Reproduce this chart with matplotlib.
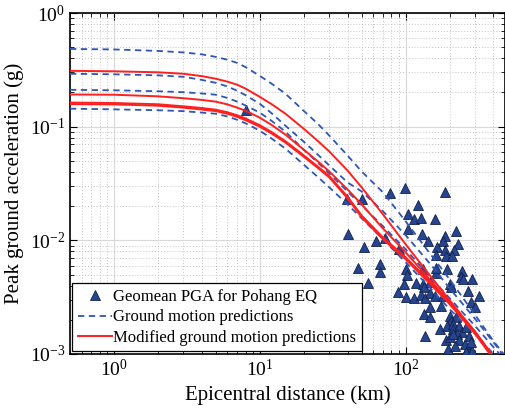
import numpy as np
import matplotlib
matplotlib.use('Agg')
import matplotlib.pyplot as plt
from matplotlib.ticker import LogLocator, NullFormatter

plt.rcParams['font.family'] = 'serif'
plt.rcParams['font.serif'] = ['Liberation Serif', 'DejaVu Serif']
plt.rcParams['mathtext.fontset'] = 'stix'

# distances (km) at which the prediction curves were read
dist = [0.5, 1, 2, 3, 4, 5, 6, 7, 8, 10, 12, 15, 20, 25, 30, 40, 50, 70, 100, 150, 200,
        300, 400, 500]

# ground motion predictions (blue dashed)
gmp_1 = [0.483, 0.478, 0.464, 0.450, 0.433, 0.411, 0.388, 0.364, 0.334, 0.280, 0.240,
         0.195, 0.138, 0.106, 0.0834, 0.0557, 0.0403, 0.0264, 0.0147, 0.00739, 0.00455,
         0.00220, 0.00130, 0.000904]
gmp_2 = [0.292, 0.289, 0.283, 0.2745, 0.258, 0.243, 0.226, 0.207, 0.189, 0.159, 0.132,
         0.102, 0.0739, 0.0568, 0.0455, 0.0323, 0.0269, 0.0180, 0.0111, 0.00604, 0.00379,
         0.00203, 0.00127, 0.000868]
gmp_3 = [0.211, 0.209, 0.205, 0.201, 0.196, 0.191, 0.179, 0.166, 0.1535, 0.133, 0.113,
         0.0904, 0.0628, 0.0483, 0.0387, 0.0269, 0.0203, 0.0133, 0.00834, 0.00464,
         0.00310, 0.00176, 0.00115, 0.000834]
gmp_4 = [0.144, 0.142, 0.1395, 0.137, 0.133, 0.130, 0.123, 0.115, 0.107, 0.0922, 0.0790,
         0.0641, 0.0464, 0.0361, 0.0292, 0.0207, 0.0156, 0.0102, 0.00641, 0.00372,
         0.00248, 0.00150, 0.00100, 0.00075]

# modified ground motion predictions (red solid)
mod_1 = [0.310, 0.307, 0.301, 0.292, 0.2785, 0.264, 0.249, 0.234, 0.216, 0.183, 0.1585,
         0.130, 0.0960, 0.0749, 0.0604, 0.0411, 0.0292, 0.0169, 0.00923, 0.00474,
         0.00298, 0.00156, 0.000922, 0.0006]
mod_2 = [0.192, 0.191, 0.185, 0.178, 0.172, 0.166, 0.157, 0.147, 0.138, 0.120, 0.104,
         0.0851, 0.0628, 0.0496, 0.0403, 0.0280, 0.0207, 0.0127, 0.00785, 0.00437,
         0.00286, 0.00156, 0.000941, 0.0006]
mod_3 = [0.163, 0.1615, 0.1575, 0.151, 0.146, 0.141, 0.134, 0.126, 0.118, 0.103, 0.090,
         0.0745, 0.0560, 0.0446, 0.0368, 0.0242, 0.0165, 0.0106, 0.00710, 0.00420,
         0.00287, 0.00157, 0.00095, 0.0006]
mod_4 = [0.158, 0.157, 0.153, 0.147, 0.1415, 0.137, 0.130, 0.122, 0.114, 0.100, 0.0874,
         0.0724, 0.0545, 0.0434, 0.0357, 0.0234, 0.0159, 0.0102, 0.00681, 0.00403,
         0.00275, 0.00150, 0.000904, 0.0006]

# observed geomean PGA, Pohang earthquake
obs_dist = [8.11, 39.9, 50.5, 78.6, 99.2, 187, 121, 40.4, 51.8, 62.3, 71.8, 104, 115, 127,
            160, 104, 130, 223, 186, 142, 180, 228, 164, 162, 185, 213, 188, 208, 90.5,
            46.8, 66.4, 66.4, 54.9, 101, 131, 162, 162, 193, 245, 241, 103, 96.9, 118,
            131, 133, 146, 88.8, 101, 115, 127, 135, 146, 159, 200, 206, 247, 286, 267,
            319, 180, 174, 146, 282, 297, 133, 147, 200, 206, 223, 172, 192, 211, 211,
            234, 244, 260, 225, 135, 190, 234, 195, 267, 254, 260, 286, 200, 211, 274,
            217, 282]
obs_pga = [0.141, 0.0232, 0.0232, 0.0262, 0.0290, 0.0265, 0.0203, 0.0113, 0.00868, 0.00986,
           0.01045, 0.0169, 0.0153, 0.0157, 0.0153, 0.01256, 0.0114, 0.0121, 0.0109,
           0.00986, 0.00986, 0.00922, 0.00868, 0.00739, 0.00817, 0.00817, 0.00728,
           0.00728, 0.00834, 0.00574, 0.00616, 0.00524, 0.00422, 0.00557, 0.00557,
           0.00521, 0.00576, 0.00557, 0.00538, 0.00471, 0.00493, 0.00415, 0.00420,
           0.00411, 0.00387, 0.00426, 0.00348, 0.00319, 0.00314, 0.00329, 0.00314,
           0.00343, 0.00325, 0.00411, 0.00385, 0.00455, 0.00455, 0.00359, 0.00325,
           0.00325, 0.00265, 0.00258, 0.00284, 0.00261, 0.00224, 0.00213, 0.00217,
           0.00196, 0.00210, 0.00167, 0.00177, 0.00183, 0.00166, 0.00177, 0.00157,
           0.00172, 0.00150, 0.00145, 0.00133, 0.00133, 0.00111, 0.00113, 0.00122,
           0.00105, 0.00107, 0.00140, 0.00150, 0.00145, 0.00118, 0.00127]

blue = '#2f55b5'
red = '#ff1f1f'
tri = '#27458f'

fig = plt.figure(figsize=(5.06, 4.17), dpi=100)
ax = fig.add_axes([0.1383, 0.1511, 0.8597, 0.8177])

ax.plot(obs_dist, obs_pga, linestyle='none', marker='^', ms=6.5, mfc=tri, mec='#10204a',
        mew=0.6, label='Geomean PGA for Pohang EQ', zorder=3)

for i, g in enumerate([gmp_1, gmp_2, gmp_3, gmp_4]):
    ax.plot(dist, g, color=blue, ls=(0, (3.5, 2.5)), lw=1.3,
            label='Ground motion predictions' if i == 0 else None, zorder=4)
for i, m in enumerate([mod_1, mod_2, mod_3, mod_4]):
    ax.plot(dist, m, color=red, lw=1.4,
            label='Modified ground motion predictions' if i == 0 else None, zorder=5)

ax.set_xscale('log')
ax.set_yscale('log')
ax.set_xlim(0.5, 480)
ax.set_ylim(1e-3, 1)

ax.xaxis.set_minor_locator(LogLocator(base=10, subs=np.arange(2, 10)))
ax.yaxis.set_minor_locator(LogLocator(base=10, subs=np.arange(2, 10)))
ax.xaxis.set_minor_formatter(NullFormatter())
ax.yaxis.set_minor_formatter(NullFormatter())

ax.grid(True, which='major', color='#d9d9d9', lw=0.8, ls='-')
ax.grid(True, which='minor', color='#c4c4c4', lw=0.7, ls=(0, (1, 2)))
ax.set_axisbelow(True)

ax.tick_params(which='both', direction='in', top=True, right=True, labelsize=14)
ax.tick_params(which='major', length=5)
ax.tick_params(which='minor', length=3)
for s in ax.spines.values():
    s.set_linewidth(1.2)

ax.set_xlabel('Epicentral distance (km)', fontsize=15)
ax.set_ylabel('Peak ground acceleration (g)', fontsize=15)

leg = ax.legend(loc='lower left', fontsize=12, frameon=True, fancybox=False,
                edgecolor='black', framealpha=1, borderpad=0.35, borderaxespad=0.15,
                handlelength=2.0, handletextpad=0.1, labelspacing=0.25, numpoints=1)
leg.get_frame().set_linewidth(0.9)

fig.savefig('out.png', dpi=100)
